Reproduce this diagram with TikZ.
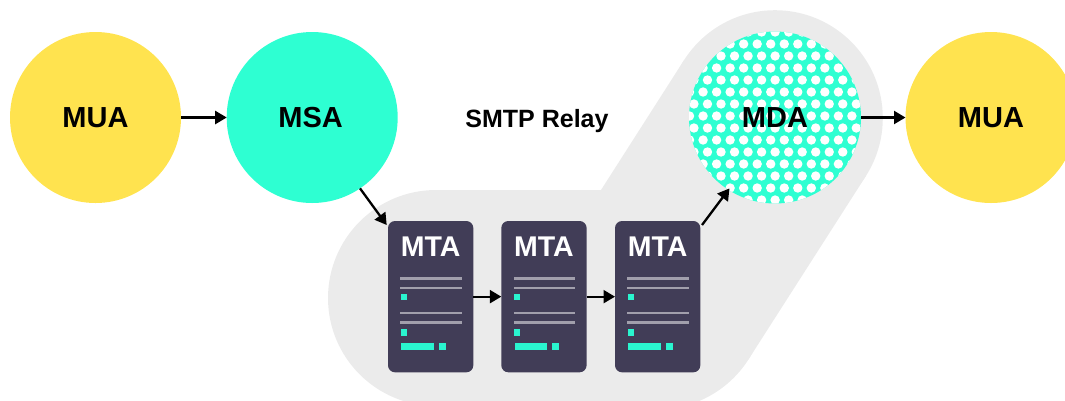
\documentclass[tikz,border=0pt]{standalone}
\usepackage{fontspec}
\setmainfont{Liberation Sans}
\usetikzlibrary{arrows.meta}
\definecolor{yel}{HTML}{FFE34F}
\definecolor{teal1}{HTML}{2EFFD2}
\definecolor{teal2}{HTML}{2AF5CF}
\definecolor{grayback}{HTML}{EBEBEB}
\definecolor{boxc}{HTML}{413D57}
\definecolor{linec}{HTML}{A19FAC}
\tikzset{
  bigcircle/.style={circle,minimum size=171pt,inner sep=0pt,outer sep=0pt,text=black,font=\fontsize{29}{29}\selectfont\bfseries},
  mtabox/.style={rectangle,rounded corners=7pt,fill=boxc,minimum width=85.3pt,minimum height=151.3pt,inner sep=0pt,outer sep=0pt},
  mtalabel/.style={anchor=base,inner sep=0pt,text=white,font=\fontsize{28.5}{28.5}\selectfont\bfseries},
  arrowline/.style={draw=black,line width=2.3pt,-{Triangle[length=11.5pt,width=13pt]}},
  backshape/.style={fill=grayback},
  rowline/.style={fill=linec},
  chip/.style={fill=teal2}
}
\begin{document}
\begin{tikzpicture}[x=1pt,y=-1pt]
\useasboundingbox (0,0) rectangle (1065,400);
\clip (0,0) rectangle (1065,400);
% background blob
\fill[backshape] (775,118) circle (107.8);
\fill[backshape] (436,298) circle (108);
\fill[backshape] (657.4,301.4) circle (108);
\fill[backshape] (436,190) -- (601,190) -- (684.1,60) -- (865.9,176) -- (748.4,359.5) -- (657.4,409.4) -- (436,406) -- cycle;
% circles
\node[bigcircle,fill=yel] (mua1) at (95.5,117.5) {MUA};
\node[bigcircle,fill=teal1] (msa) at (312.2,117.5) {\hspace*{-3pt}MSA};
\node[bigcircle,fill=yel] (mua2) at (991,117.5) {MUA};
\node[bigcircle,fill=teal1,minimum size=172pt,path picture={
  \foreach \k in {0,...,14}{
    \pgfmathsetmacro{\yy}{32+12*\k-117.5}
    \pgfmathsetmacro{\phase}{mod(\k,2)==0 ? 721 : 716.6}
    \foreach \n in {-3,...,11}{
      \pgfmathsetmacro{\xx}{\phase+13.53*\n-775}
      \fill[white] ([shift={(\xx,\yy)}]path picture bounding box.center) circle (4.7);
    }
  }
}] (mda) at (775,117.5) {MDA};
\node[inner sep=0pt,anchor=base,font=\fontsize{25}{25}\selectfont\bfseries] (relay) at (537,127) {SMTP Relay};
% MTA boxes
\foreach \i/\xo in {1/388,2/501.3,3/615}{
  \node[mtabox,anchor=north west] (mta\i) at (\xo,221) {};
  \node[mtalabel] (mtal\i) at (\xo+42.7,256) {MTA};
  \begin{scope}[shift={(\xo,0)}]
    \foreach \yl in {278.3,288,313,322.7}{
      \fill[rowline] (12.3,\yl-1.4) rectangle (73.7,\yl+1.4);
    }
    \fill[chip] (12.7,294) rectangle (18.9,300.3);
    \fill[chip] (12.7,329.3) rectangle (18.9,335.7);
    \fill[chip] (13.3,343.3) rectangle (45.7,350);
    \fill[chip] (51,343.3) rectangle (57.7,350);
  \end{scope}
}
% connectors
\draw[arrowline] (mua1.east) -- (msa.west);
\draw[arrowline] (msa.-56) -- ([shift={(-1.3,4)}]mta1.north west);
\draw[arrowline] (mta1.east) -- (mta2.west);
\draw[arrowline] (mta2.east) -- (mta3.west);
\draw[arrowline] ([shift={(1.7,4)}]mta3.north east) -- ([shift={(1.3,-1.2)}]mda.-123);
\draw[arrowline] (mda.east) -- (mua2.west);
\end{tikzpicture}
\end{document}
